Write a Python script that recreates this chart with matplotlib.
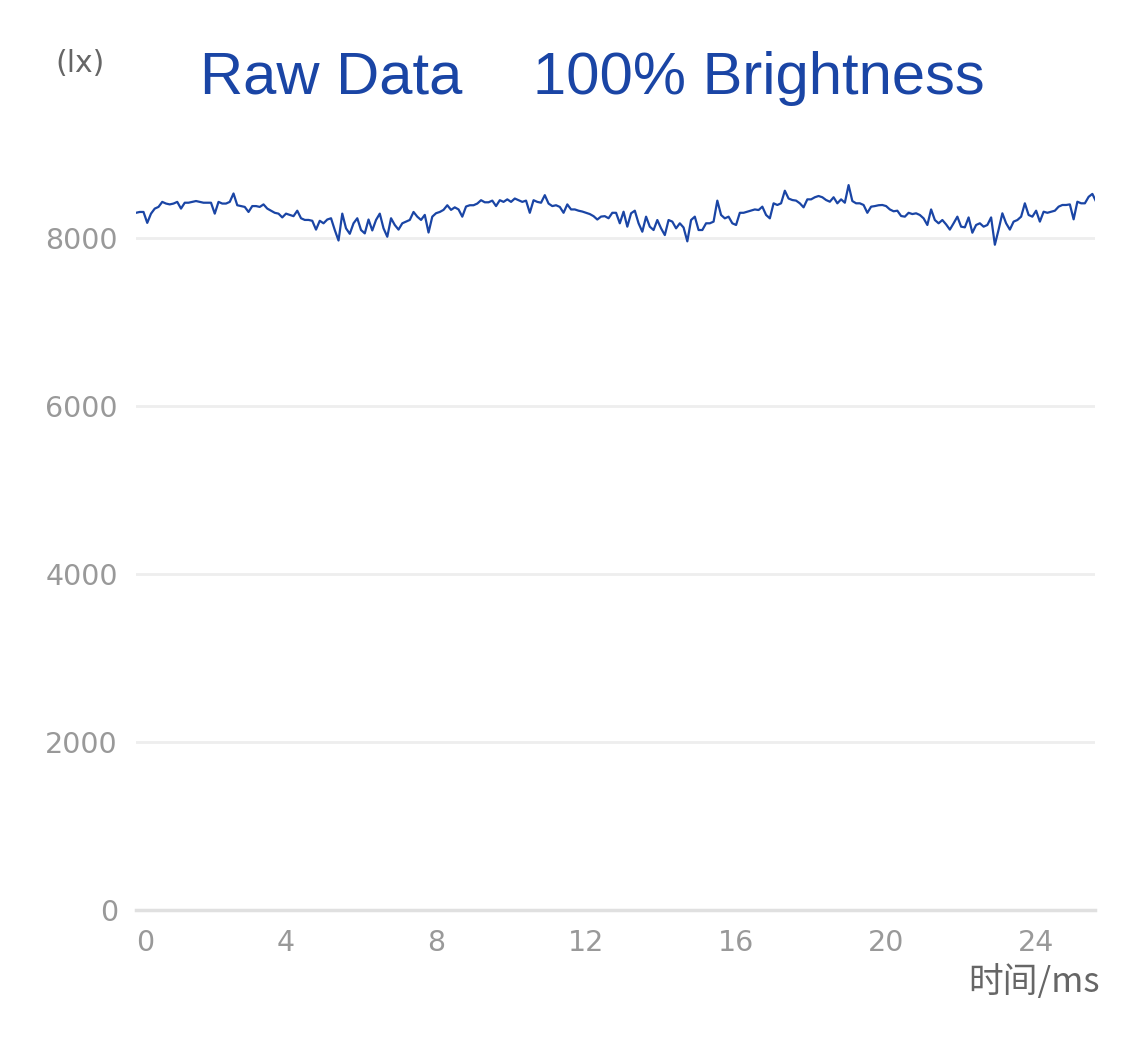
import numpy as np
import matplotlib
matplotlib.use("Agg")
import matplotlib.pyplot as plt

# illuminance readings (lx), one every 0.1 ms
lux = [
    8300, 8310, 8310, 8180, 8290, 8350, 8370, 8430, 8410, 8400,
    8410, 8430, 8350, 8420, 8420, 8430, 8440, 8430, 8420, 8420,
    8420, 8290, 8430, 8410, 8410, 8430, 8530, 8390, 8380, 8370,
    8310, 8380, 8380, 8370, 8400, 8350, 8325, 8300, 8290, 8245,
    8290, 8275, 8260, 8325, 8235, 8215, 8215, 8205, 8100, 8205,
    8175, 8220, 8235, 8095, 7970, 8290, 8115, 8050, 8175, 8235,
    8095, 8055, 8220, 8090, 8215, 8290, 8115, 8015, 8235, 8155,
    8100, 8175, 8195, 8215, 8310, 8254, 8215, 8275, 8065, 8254,
    8295, 8310, 8335, 8390, 8335, 8365, 8340, 8254, 8375, 8390,
    8390, 8410, 8450, 8425, 8425, 8445, 8380, 8450, 8430, 8460,
    8430, 8470, 8450, 8430, 8445, 8300, 8450, 8430, 8420, 8510,
    8410, 8380, 8390, 8370, 8300, 8400, 8340, 8340, 8325, 8315,
    8300, 8285, 8260, 8220, 8255, 8260, 8235, 8300, 8300, 8175,
    8313, 8135, 8294, 8325, 8175, 8075, 8254, 8135, 8095, 8214,
    8115, 8035, 8214, 8195, 8115, 8175, 8125, 7960, 8214, 8254,
    8095, 8095, 8175, 8175, 8195, 8445, 8274, 8234, 8254, 8175,
    8155, 8300, 8300, 8313, 8325, 8340, 8333, 8373, 8274, 8234,
    8413, 8393, 8413, 8563, 8470, 8452, 8445, 8413, 8365, 8460,
    8460, 8485, 8500, 8485, 8452, 8432, 8485, 8413, 8460, 8420,
    8630, 8440, 8413, 8413, 8393, 8300, 8373, 8380, 8390, 8393,
    8380, 8340, 8318, 8325, 8262, 8254, 8300, 8285, 8294, 8274,
    8234, 8155, 8340, 8214, 8175, 8214, 8162, 8100, 8175, 8254,
    8135, 8127, 8245, 8063, 8155, 8175, 8135, 8155, 8245, 7920,
    8100, 8294, 8175, 8100, 8195, 8214, 8254, 8413, 8274, 8254,
    8325, 8195, 8313, 8300, 8313, 8325, 8373, 8393, 8393, 8400,
    8222, 8432, 8413, 8413, 8490, 8525, 8432,
]
step_ms = 0.1
t = np.arange(len(lux)) * step_ms

y_ticks = [0, 2000, 4000, 6000, 8000]
x_ticks = [0, 4, 8, 12, 16, 20, 24]

blue = '#1a45a5'
grey_txt = '#999999'
dark_txt = '#666666'

W, H = 1125, 1040
fig = plt.figure(figsize=(W / 100, H / 100), dpi=100)
ax = fig.add_axes([136 / W, 1 - 910 / H, 959 / W, 756 / H])

ax.plot(t, lux, color=blue, lw=1.6, solid_joinstyle='round')

ax.set_xlim(0, 25.57)
ax.set_ylim(0, 9000)
ax.set_yticks(y_ticks)
ax.set_xticks(x_ticks)
ax.grid(axis='y', color='#eeeeee', lw=2)
ax.grid(axis='x', visible=False)
ax.set_axisbelow(True)
for side in ['top', 'right', 'left']:
    ax.spines[side].set_visible(False)
ax.spines['bottom'].set_color('#e0e0e0')
ax.spines['bottom'].set_linewidth(2.5)

ax.tick_params(length=0, labelcolor=grey_txt, labelsize=20.5)
ax.tick_params(axis='y', pad=13)
ax.tick_params(axis='x', pad=14)
for lab in ax.get_yticklabels() + ax.get_xticklabels():
    lab.set_family('DejaVu Sans')
ax.get_xticklabels()[0].set_horizontalalignment('left')

fig.text(55 / W, 1 - 63 / H, '(lx)', color=dark_txt, fontsize=21.5,
         family='DejaVu Sans', va='center', ha='left')
fig.text(200 / W, 1 - 94 / H, 'Raw Data', color=blue, fontsize=43,
         family='Liberation Sans', va='baseline', ha='left')
fig.text(533 / W, 1 - 94 / H, '100% Brightness', color=blue, fontsize=43,
         family='Liberation Sans', va='baseline', ha='left')
fig.text(1100 / W, 1 - 982 / H, '时间/ms', color=dark_txt, fontsize=25,
         family=['Noto Sans CJK SC', 'DejaVu Sans'], va='center', ha='right')

fig.savefig('out.png', dpi=100, facecolor='white')
